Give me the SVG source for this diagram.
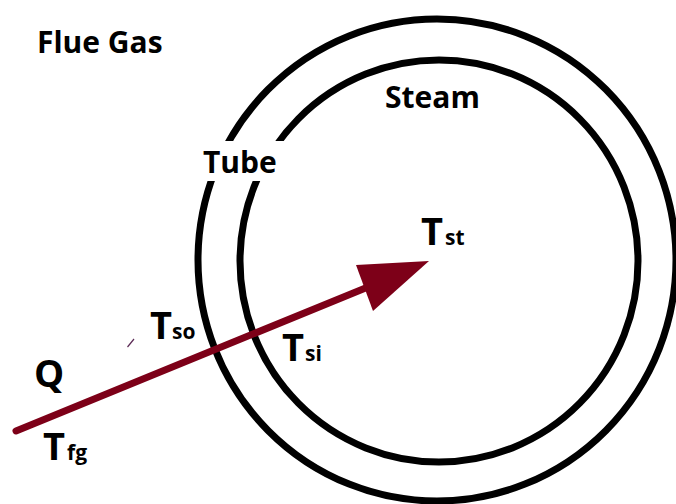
<svg xmlns="http://www.w3.org/2000/svg" width="676" height="504" viewBox="0 0 676 504">
  <style>
    .lbl { font-family: "Open Sans", "Noto Sans", "Liberation Sans", sans-serif; font-weight: 700; fill: #000; }
    .big { font-size: 30px; }
    .sym { font-size: 38px; }
    .sub { font-size: 21px; }
    .ring { fill: none; stroke: #000; stroke-width: 7; }
    .flow { stroke: #7d0018; stroke-width: 7; stroke-linecap: round; fill: none; }
  </style>
  <rect width="676" height="504" fill="#fff"/>

  <g id="tube">
    <ellipse class="ring" cx="437" cy="260" rx="239" ry="241"/>
    <ellipse class="ring" cx="439" cy="261" rx="199" ry="201"/>
    <rect x="198" y="141" width="100" height="40" fill="#fff"/>
    <text class="lbl big" x="203" y="173">Tube</text>
  </g>

  <g id="flue-gas">
    <text class="lbl big" x="37" y="53">Flue Gas</text>
  </g>

  <g id="steam">
    <text class="lbl big" x="385" y="108">Steam</text>
  </g>

  <g id="connectors">
    <line class="flow" x1="16" y1="431" x2="368" y2="287"/>
    <polygon points="429,261 356,265 373,311" fill="#7d0018"/>
  </g>

  <g id="t-st">
    <text class="lbl"><tspan class="sym" x="421" y="245">T</tspan><tspan class="sub" x="445" y="245">st</tspan></text>
  </g>

  <g id="t-so">
    <text class="lbl"><tspan class="sym" x="150" y="339">T</tspan><tspan class="sub" x="172" y="339">so</tspan></text>
  </g>

  <g id="t-si">
    <text class="lbl"><tspan class="sym" x="282" y="361">T</tspan><tspan class="sub" x="305" y="361">si</tspan></text>
  </g>

  <g id="q">
    <text class="lbl sym" x="34" y="387">Q</text>
  </g>

  <g id="t-fg">
    <text class="lbl"><tspan class="sym" x="43" y="460" font-size="40">T</tspan><tspan class="sub" x="67" y="460">fg</tspan></text>
  </g>

  <line x1="127.5" y1="347" x2="134" y2="339" stroke="#5b2a55" stroke-width="1.2"/>
</svg>
